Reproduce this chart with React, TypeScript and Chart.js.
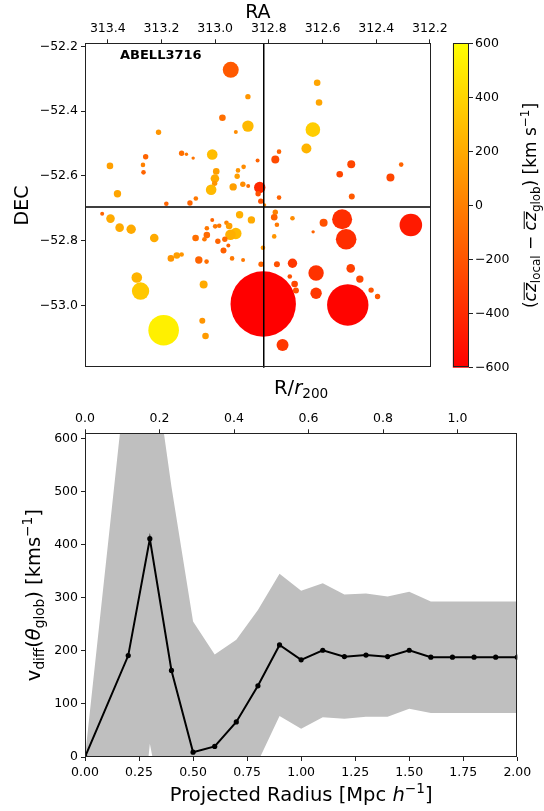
import { useEffect, useRef } from 'react';
import { Chart, registerables } from 'chart.js';

Chart.register(...registerables);

const FONT = 'DejaVu Sans';
const AXIS_COLOR = '#222222';
const BAND_COLOR = '#bfbfbf';

// ---------- Top panel: galaxies (RA, DEC, bubble radius, colour value) ----------
const CLUSTER_NAME = 'ABELL3716';
const CENTER_RA = 312.819;
const CENTER_DEC = -52.696;
const RA_RANGE = [312.197, 313.485];
const DEC_RANGE = [-53.193, -52.19];
const RA_TICKS = [312.2, 312.4, 312.6, 312.8, 313.0, 313.2, 313.4];
const DEC_TICKS = [-53.0, -52.8, -52.6, -52.4, -52.2];

const RA = [
  312.821, 312.506, 313.192,
  312.942, 312.878, 312.973, 312.878, 312.923, 313.211, 313.011, 313.125, 313.107, 313.082,
  313.259, 313.392, 313.269, 313.267, 312.996, 312.915, 312.894, 313.001, 312.918, 313.002,
  312.933, 312.897, 312.877, 313.015, 312.834, 312.840, 313.364, 312.830, 313.182, 313.094,
  313.072, 312.842, 312.816, 312.620, 312.613, 312.636, 312.660, 312.762, 312.776, 312.493,
  312.536, 312.307, 312.347, 312.491, 312.762, 313.421, 313.390, 313.356, 313.313, 313.227,
  313.011, 313.031, 313.000, 312.985, 312.958, 312.948, 312.909, 312.865, 312.923, 312.943,
  313.031, 313.040, 313.073, 312.990, 312.964, 312.951, 312.969, 313.165, 313.143, 313.125,
  313.061, 313.032, 312.937, 312.896, 313.292, 313.278, 313.043, 313.048, 313.036, 312.822,
  312.829, 312.776, 312.780, 312.770, 312.712, 312.780, 312.635, 312.596, 312.527, 312.512,
  312.271, 312.770, 312.712, 312.624, 312.722, 312.704, 312.699, 312.624, 312.495, 312.461,
  312.419, 312.395, 312.749,
];
const DEC = [
  -52.996, -52.999, -53.077,
  -52.272, -52.355, -52.420, -52.446, -52.464, -52.465, -52.534, -52.530, -52.533, -52.545,
  -52.541, -52.569, -52.566, -52.589, -52.586, -52.583, -52.572, -52.608, -52.601, -52.623,
  -52.634, -52.626, -52.631, -52.643, -52.636, -52.655, -52.655, -52.678, -52.686, -52.684,
  -52.670, -52.552, -52.690, -52.312, -52.373, -52.457, -52.515, -52.525, -52.549, -52.564,
  -52.595, -52.565, -52.605, -52.664, -52.667, -52.717, -52.732, -52.760, -52.765, -52.792,
  -52.736, -52.762, -52.756, -52.754, -52.745, -52.755, -52.720, -52.736, -52.778, -52.782,
  -52.783, -52.796, -52.792, -52.802, -52.796, -52.815, -52.831, -52.855, -52.846, -52.843,
  -52.860, -52.865, -52.855, -52.860, -52.914, -52.956, -52.936, -53.048, -53.095, -52.822,
  -52.873, -52.712, -52.728, -52.751, -52.731, -52.787, -52.773, -52.745, -52.734, -52.796,
  -52.752, -52.873, -52.870, -52.900, -52.911, -52.934, -52.954, -52.963, -52.886, -52.919,
  -52.953, -52.973, -53.123,
];
const BUBBLE_R = [
  32.7, 20.7, 15.3,
  8, 2.7, 3.3, 5.7, 2, 2.7, 5.3, 2.7, 1.7, 1.7,
  2.7, 3.3, 2.3, 2.3, 3.3, 2.3, 2.3, 4.3, 2.7, 2.7,
  3.7, 2.7, 2, 5.3, 5.7, 2.7, 3.7, 2.7, 2.3, 2.7,
  2.3, 2, 1.7, 3.3, 3.3, 7.3, 5, 2.3, 4, 4,
  3.3, 2.3, 4, 3, 2.3, 2, 4.3, 4.3, 4.7, 4.3,
  2, 2.3, 2.3, 2.3, 2.3, 3.3, 3.7, 3.7, 5.7, 5.3,
  3.3, 2.3, 3.3, 2.7, 2.7, 2, 3, 3.3, 3.3, 2.3,
  3.7, 2.3, 2.3, 2, 5.3, 8.7, 4, 3, 3.3, 2.3,
  2.7, 2.7, 3.3, 2.3, 2.3, 2.3, 1.7, 4, 10, 10.3,
  11.3, 3, 4.7, 7.7, 2.3, 3.3, 3, 5.7, 4.3, 3.7,
  2.7, 2.7, 6,
];
const DV = [
  -600, -580, 530,
  -180, 100, -80, 270, 60, 100, 290, -80, -30, -50,
  -130, 150, 10, -130, 150, 100, 60, 200, 150, 100,
  150, 60, -80, 270, -410, -220, 176, -220, -130, -130,
  -35, -130, 50, 176, 176, 365, 247, -130, -250, -270,
  -270, -130, -270, -180, -130, -130, 200, 200, 200, 200,
  -130, -35, -35, -35, 10, 150, 224, 200, 270, 224,
  -100, -35, -80, -130, -100, -130, -150, 100, 150, 100,
  -130, -80, -35, -35, 247, 340, 200, 100, 130, 100,
  -130, 10, -130, -35, 60, 100, -130, -220, -390, -390,
  -480, -220, -340, -365, -220, -270, -220, -340, -300, -270,
  -200, -180, -340,
];
const CBAR_RANGE = [-600, 600];
const CBAR_TICKS = [-600, -400, -200, 0, 200, 400, 600];

// ---------- Bottom panel ----------
const RADIUS = [0, 0.2, 0.3, 0.4, 0.5, 0.6, 0.7, 0.8, 0.9, 1.0, 1.1, 1.2, 1.3, 1.4, 1.5, 1.6, 1.7, 1.8, 1.9, 2.0];
const VDIFF = [0, 191, 411, 163, 9, 20, 66, 134, 211, 183, 201, 189, 192, 189, 201, 188, 188, 188, 188, 188];
const VDIFF_UPPER = [0, 755, 797, 509, 255, 193, 221, 277, 345, 313, 327, 306, 308, 302, 311, 293, 293, 293, 293, 293];
const VDIFF_LOWER = [0, -373, 25, -183, -237, -153, -89, -9, 77, 53, 75, 72, 76, 76, 91, 83, 83, 83, 83, 83];
const R_RANGE = [0, 2.0];
const R200_RANGE = [0, 1.1605];
const V_RANGE = [0, 609.5];
const R_TICKS = [0, 0.25, 0.5, 0.75, 1.0, 1.25, 1.5, 1.75, 2.0];
const R200_TICKS = [0, 0.2, 0.4, 0.6, 0.8, 1.0];
const V_TICKS = [0, 100, 200, 300, 400, 500, 600];

type Seg = { t: string; sub?: boolean; sup?: boolean; it?: boolean; bar?: boolean };

const T_RA: Seg[] = [{ t: 'RA' }];
const T_DEC: Seg[] = [{ t: 'DEC' }];
const T_CBAR: Seg[] = [
  { t: '(' }, { t: 'cz', it: true, bar: true }, { t: 'local', sub: true }, { t: ' − ' },
  { t: 'cz', it: true, bar: true }, { t: 'glob', sub: true }, { t: ') [km s' }, { t: '−1', sup: true }, { t: ']' },
];
const T_R200: Seg[] = [{ t: 'R/' }, { t: 'r', it: true }, { t: '200', sub: true }];
const T_XB: Seg[] = [{ t: 'Projected Radius [Mpc ' }, { t: 'h', it: true }, { t: '−1', sup: true }, { t: ']' }];
const T_YB: Seg[] = [
  { t: 'v' }, { t: 'diff', sub: true }, { t: '(' }, { t: 'θ', it: true }, { t: 'glob', sub: true },
  { t: ') [kms' }, { t: '−1', sup: true }, { t: ']' },
];

function cmap(v: number): string {
  const t = Math.max(0, Math.min(1, (v - CBAR_RANGE[0]) / (CBAR_RANGE[1] - CBAR_RANGE[0])));
  return `rgb(255, ${Math.round(255 * t)}, 0)`;
}

function drawRich(ctx: CanvasRenderingContext2D, segs: Seg[], cx: number, cy: number, size: number, rot = 0) {
  ctx.save();
  ctx.translate(cx, cy);
  ctx.rotate(rot);
  ctx.fillStyle = '#000';
  ctx.strokeStyle = '#000';
  ctx.textAlign = 'left';
  ctx.textBaseline = 'alphabetic';
  const fontOf = (s: Seg) => `${s.it ? 'italic ' : ''}${(s.sub || s.sup) ? (size * 0.7).toFixed(2) : size}px "${FONT}"`;
  const widths = segs.map((s) => { ctx.font = fontOf(s); return ctx.measureText(s.t).width; });
  const total = widths.reduce((a, b) => a + b, 0);
  let x = -total / 2;
  const base = size * 0.36;
  segs.forEach((s, i) => {
    ctx.font = fontOf(s);
    const dy = s.sub ? size * 0.22 : s.sup ? -size * 0.42 : 0;
    ctx.fillText(s.t, x, base + dy);
    if (s.bar) {
      ctx.lineWidth = Math.max(1, size * 0.05);
      ctx.beginPath();
      ctx.moveTo(x + size * 0.08, base - size * 0.7);
      ctx.lineTo(x + widths[i] + size * 0.05, base - size * 0.7);
      ctx.stroke();
    }
    x += widths[i];
  });
  ctx.restore();
}

const tickFont = { family: FONT, size: 12.5 };
const minus = (s: string) => s.replace('-', '−');
const fixedTicks = (vals: number[]) => (s: any) => { s.ticks = vals.map((value) => ({ value })); };

function frame(ctx: CanvasRenderingContext2D, a: { left: number; top: number; right: number; bottom: number }) {
  ctx.save();
  ctx.strokeStyle = AXIS_COLOR;
  ctx.lineWidth = 1;
  ctx.strokeRect(Math.round(a.left) + 0.5, Math.round(a.top) + 0.5, Math.round(a.right - a.left) - 1, Math.round(a.bottom - a.top) - 1);
  ctx.restore();
}

const gridOpts = { drawOnChartArea: false, tickLength: 4, color: AXIS_COLOR, lineWidth: 1 };

export default function App() {
  const topRef = useRef<HTMLCanvasElement>(null);
  const cbarRef = useRef<HTMLCanvasElement>(null);
  const botRef = useRef<HTMLCanvasElement>(null);

  useEffect(() => {
    const charts: Chart[] = [];

    // Scatter panel
    charts.push(new Chart(topRef.current!, {
      type: 'bubble',
      data: {
        datasets: [{
          data: RA.map((ra, i) => ({ x: ra, y: DEC[i], r: BUBBLE_R[i] })),
          backgroundColor: DV.map(cmap),
          borderWidth: 0,
          hoverRadius: 0,
        }],
      },
      options: {
        responsive: false,
        animation: false,
        events: [],
        layout: { autoPadding: false, padding: { left: 0, right: 21.3, top: 0, bottom: 7.3 } },
        plugins: { legend: { display: false }, tooltip: { enabled: false } },
        scales: {
          x: {
            type: 'linear', position: 'top', reverse: true, min: RA_RANGE[0], max: RA_RANGE[1],
            afterBuildTicks: fixedTicks(RA_TICKS),
            afterFit: (s: any) => { s.height = 43.3; s.paddingLeft = 0; s.paddingRight = 0; },
            ticks: { autoSkip: false, maxRotation: 0, padding: 3, color: '#000', font: tickFont, callback: (v: any) => Number(v).toFixed(1) },
            grid: gridOpts, border: { display: false },
          },
          y: {
            type: 'linear', position: 'left', min: DEC_RANGE[0], max: DEC_RANGE[1],
            afterBuildTicks: fixedTicks(DEC_TICKS),
            afterFit: (s: any) => { s.width = 85; s.paddingTop = 0; s.paddingBottom = 0; },
            ticks: { autoSkip: false, padding: 3, color: '#000', font: tickFont, callback: (v: any) => minus(Number(v).toFixed(1)) },
            grid: gridOpts, border: { display: false },
          },
        },
      },
      plugins: [{
        id: 'topDecor',
        afterDatasetsDraw(chart: any) {
          const { ctx, chartArea: a, scales } = chart;
          const x = scales.x.getPixelForValue(CENTER_RA);
          const y = scales.y.getPixelForValue(CENTER_DEC);
          ctx.save();
          ctx.strokeStyle = '#000';
          ctx.lineWidth = 1.5;
          ctx.beginPath();
          ctx.moveTo(x, a.top); ctx.lineTo(x, a.bottom);
          ctx.moveTo(a.left, y); ctx.lineTo(a.right, y);
          ctx.stroke();
          ctx.fillStyle = '#000';
          ctx.font = `bold 13px "${FONT}"`;
          ctx.textBaseline = 'middle';
          ctx.textAlign = 'left';
          ctx.fillText(CLUSTER_NAME, a.left + 35, a.top + 12.7);
          ctx.restore();
        },
        afterDraw(chart: any) {
          const { ctx, chartArea: a } = chart;
          frame(ctx, a);
          drawRich(ctx, T_RA, (a.left + a.right) / 2, 11, 19);
          drawRich(ctx, T_DEC, 21.5, (a.top + a.bottom) / 2, 19, -Math.PI / 2);
        },
      }],
    } as any));

    // Colour bar
    charts.push(new Chart(cbarRef.current!, {
      type: 'bar',
      data: {
        labels: [''],
        datasets: [{
          data: [CBAR_RANGE],
          borderWidth: 0,
          barPercentage: 1,
          categoryPercentage: 1,
          backgroundColor: (c: any) => {
            const chart = c.chart;
            if (!chart.chartArea) return cmap(0);
            const ys = chart.scales.y;
            const g = chart.ctx.createLinearGradient(0, ys.getPixelForValue(CBAR_RANGE[0]), 0, ys.getPixelForValue(CBAR_RANGE[1]));
            g.addColorStop(0, cmap(CBAR_RANGE[0]));
            g.addColorStop(1, cmap(CBAR_RANGE[1]));
            return g;
          },
        }],
      },
      options: {
        responsive: false,
        animation: false,
        events: [],
        layout: { autoPadding: false, padding: { left: 0.7, right: 0, top: 43.3, bottom: 7.3 } },
        plugins: { legend: { display: false }, tooltip: { enabled: false } },
        scales: {
          x: { display: false },
          y: {
            type: 'linear', position: 'right', min: CBAR_RANGE[0], max: CBAR_RANGE[1],
            afterBuildTicks: fixedTicks(CBAR_TICKS),
            afterFit: (s: any) => { s.width = 75; s.paddingTop = 0; s.paddingBottom = 0; },
            ticks: { autoSkip: false, padding: 2, color: '#000', font: tickFont, callback: (v: any) => minus(String(v)) },
            grid: gridOpts, border: { display: false },
          },
        },
      },
      plugins: [{
        id: 'cbarDecor',
        afterDraw(chart: any) {
          const { ctx, chartArea: a } = chart;
          frame(ctx, a);
          drawRich(ctx, T_CBAR, 78, (a.top + a.bottom) / 2, 17, -Math.PI / 2);
        },
      }],
    } as any));

    // Velocity profile panel
    charts.push(new Chart(botRef.current!, {
      type: 'line',
      data: {
        datasets: [
          {
            data: RADIUS.map((r, i) => ({ x: r, y: VDIFF[i] })),
            borderColor: '#000', borderWidth: 2, pointRadius: 2.6, pointBackgroundColor: '#000',
            pointBorderWidth: 0, fill: false, tension: 0,
          },
          {
            data: RADIUS.map((r, i) => ({ x: r, y: VDIFF_UPPER[i] })),
            borderColor: 'rgba(0,0,0,0)', borderWidth: 1, pointRadius: 0, fill: false, tension: 0,
            backgroundColor: BAND_COLOR,
          },
          {
            data: RADIUS.map((r, i) => ({ x: r, y: VDIFF_LOWER[i] })),
            borderColor: 'rgba(0,0,0,0)', borderWidth: 1, pointRadius: 0, fill: '-1', tension: 0,
            backgroundColor: BAND_COLOR,
          },
        ],
      },
      options: {
        responsive: false,
        animation: false,
        events: [],
        layout: { autoPadding: false, padding: { left: 0, right: 26.7, top: 0, bottom: 0 } },
        plugins: { legend: { display: false }, tooltip: { enabled: false } },
        scales: {
          x: {
            type: 'linear', position: 'bottom', min: R_RANGE[0], max: R_RANGE[1],
            afterBuildTicks: fixedTicks(R_TICKS),
            afterFit: (s: any) => { s.height = 54; s.paddingLeft = 0; s.paddingRight = 0; },
            ticks: { autoSkip: false, maxRotation: 0, padding: 4, color: '#000', font: tickFont, callback: (v: any) => Number(v).toFixed(2) },
            grid: gridOpts, border: { display: false },
          },
          x2: {
            type: 'linear', position: 'top', min: R200_RANGE[0], max: R200_RANGE[1],
            afterBuildTicks: fixedTicks(R200_TICKS),
            afterFit: (s: any) => { s.height = 58.3; s.paddingLeft = 0; s.paddingRight = 0; },
            ticks: { autoSkip: false, maxRotation: 0, padding: 3, color: '#000', font: tickFont, callback: (v: any) => Number(v).toFixed(1) },
            grid: gridOpts, border: { display: false },
          },
          y: {
            type: 'linear', position: 'left', min: V_RANGE[0], max: V_RANGE[1],
            afterBuildTicks: fixedTicks(V_TICKS),
            afterFit: (s: any) => { s.width = 85; s.paddingTop = 0; s.paddingBottom = 0; },
            ticks: { autoSkip: false, padding: 3, color: '#000', font: tickFont, callback: (v: any) => String(v) },
            grid: gridOpts, border: { display: false },
          },
        },
      },
      plugins: [{
        id: 'botDecor',
        afterDraw(chart: any) {
          const { ctx, chartArea: a } = chart;
          frame(ctx, a);
          const cx = (a.left + a.right) / 2;
          drawRich(ctx, T_R200, cx, 12, 19.5);
          drawRich(ctx, T_XB, cx, 419, 19.5);
          drawRich(ctx, T_YB, 33, (a.top + a.bottom) / 2, 19.5, -Math.PI / 2);
        },
      }],
    } as any));

    return () => charts.forEach((c) => c.destroy());
  }, []);

  return (
    <div style={{ position: 'absolute', left: 0, top: 0, width: 544, height: 811, background: '#fff' }}>
      <canvas ref={topRef} width={452} height={375} style={{ position: 'absolute', left: 0, top: 0, display: 'block' }} />
      <canvas ref={cbarRef} width={92} height={375} style={{ position: 'absolute', left: 452, top: 0, display: 'block' }} />
      <canvas ref={botRef} width={544} height={436} style={{ position: 'absolute', left: 0, top: 375, display: 'block' }} />
    </div>
  );
}
